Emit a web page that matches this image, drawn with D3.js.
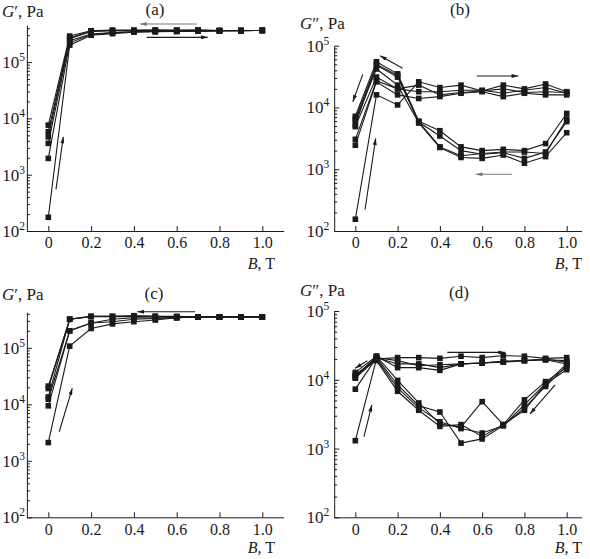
<!DOCTYPE html>
<html><head><meta charset="utf-8">
<script src="https://cdn.jsdelivr.net/npm/d3@7"></script>
<style>
body{margin:0;background:#fff}
svg{display:block}
text{font-family:"Liberation Serif","Times New Roman",Times,serif;fill:#1a1a1a}
</style>
</head><body>
<svg id="chart" width="590" height="559" font-family="Liberation Serif"></svg>
<script>
// ---------- data ----------
const B_UP = [0, 0.1, 0.2, 0.3, 0.4, 0.5, 0.6, 0.7, 0.8, 0.9, 1.0];
const B_DOWN = [1.0, 0.9, 0.8, 0.7, 0.6, 0.5, 0.4, 0.3, 0.2, 0.1, 0];
const xTickValues = [0, 0.2, 0.4, 0.6, 0.8, 1.0];
const xTickLabels = ["0", "0.2", "0.4", "0.6", "0.8", "1.0"];
const yTickExponents = [2, 3, 4, 5];

// (a) G' , sweeps of increasing / decreasing field
const aUp = [
  [175, 2.0e5, 3.0e5, 3.2e5, 3.4e5, 3.45e5, 3.5e5, 3.55e5, 3.6e5, 3.6e5, 3.65e5],
  [1950, 2.2e5, 3.1e5, 3.3e5, 3.45e5, 3.5e5, 3.5e5, 3.55e5, 3.6e5, 3.6e5, 3.65e5],
  [3600, 2.4e5, 3.15e5, 3.35e5, 3.45e5, 3.5e5, 3.55e5, 3.55e5, 3.6e5, 3.6e5, 3.65e5]
];
const aDown = [
  [3.65e5, 3.65e5, 3.65e5, 3.7e5, 3.7e5, 3.7e5, 3.7e5, 3.7e5, 3.6e5, 2.9e5, 7600],
  [3.65e5, 3.65e5, 3.65e5, 3.7e5, 3.65e5, 3.7e5, 3.65e5, 3.65e5, 3.55e5, 2.7e5, 5800],
  [3.65e5, 3.65e5, 3.6e5, 3.65e5, 3.65e5, 3.65e5, 3.6e5, 3.6e5, 3.5e5, 2.6e5, 4700]
];
// (b) G''
const bUp = [
  [155, 1.6e4, 1.1e4, 2.6e4, 2.1e4, 2.3e4, 1.85e4, 2.3e4, 2.0e4, 2.4e4, 1.8e4],
  [2450, 2.6e4, 1.6e4, 1.4e4, 1.5e4, 1.7e4, 1.8e4, 1.5e4, 1.7e4, 1.6e4, 1.6e4],
  [3050, 2.7e4, 2.0e4, 1.8e4, 1.8e4, 1.9e4, 1.9e4, 1.7e4, 1.9e4, 2.1e4, 1.7e4],
  [4900, 3.1e4, 2.0e4, 2.3e4, 1.6e4, 1.75e4, 1.85e4, 2.0e4, 1.75e4, 1.8e4, 1.75e4]
];
const bDown = [
  [8000, 2600, 2000, 2100, 2000, 2300, 4200, 6000, 3.5e4, 5.5e4, 7200],
  [5900, 1900, 1500, 1850, 1750, 2000, 3450, 5800, 3.1e4, 4.8e4, 6600],
  [3900, 1600, 1250, 1700, 1500, 1550, 2250, 5600, 2.3e4, 4.2e4, 6100],
  [6500, 1800, 1900, 1900, 1800, 1650, 2300, 5900, 3.3e4, 5.0e4, 5200]
];
// (c) G'
const cUp = [
  [2100, 1.07e5, 2.2e5, 2.65e5, 2.9e5, 3.1e5, 3.4e5, 3.5e5, 3.5e5, 3.5e5, 3.5e5],
  [9400, 2.0e5, 2.75e5, 2.9e5, 3.2e5, 3.3e5, 3.4e5, 3.5e5, 3.5e5, 3.5e5, 3.5e5],
  [1.23e4, 2.0e5, 2.75e5, 3.2e5, 3.4e5, 3.35e5, 3.45e5, 3.5e5, 3.5e5, 3.5e5, 3.5e5]
];
const cDown = [
  [3.5e5, 3.5e5, 3.5e5, 3.5e5, 3.6e5, 3.6e5, 3.7e5, 3.6e5, 3.6e5, 3.2e5, 2.1e4],
  [3.5e5, 3.5e5, 3.5e5, 3.5e5, 3.55e5, 3.6e5, 3.65e5, 3.6e5, 3.6e5, 3.2e5, 1.9e4],
  [3.5e5, 3.5e5, 3.5e5, 3.5e5, 3.5e5, 3.55e5, 3.6e5, 3.55e5, 3.55e5, 3.2e5, 1.35e4]
];
// (d) G''
const dUp = [
  [1300, 2.0e4, 2.1e4, 2.1e4, 2.05e4, 2.2e4, 2.1e4, 2.25e4, 2.2e4, 2.05e4, 2.1e4],
  [7300, 2.1e4, 1.7e4, 1.7e4, 1.5e4, 1.7e4, 1.75e4, 1.85e4, 1.9e4, 1.95e4, 1.9e4],
  [1.06e4, 2.2e4, 1.5e4, 1.5e4, 1.37e4, 1.7e4, 1.75e4, 1.85e4, 1.9e4, 1.95e4, 1.7e4],
  [1.14e4, 2.1e4, 1.9e4, 1.6e4, 1.65e4, 1.7e4, 1.75e4, 1.8e4, 1.9e4, 2.0e4, 1.8e4]
];
const dDown = [
  [1.5e4, 9400, 5100, 2230, 4800, 2050, 2270, 4600, 9800, 2.2e4, 1.28e4],
  [1.4e4, 8750, 4350, 2150, 1380, 1200, 3400, 4200, 8400, 2.1e4, 1.14e4],
  [1.6e4, 8000, 3900, 2150, 1680, 1950, 2450, 3900, 7600, 2.0e4, 1.06e4],
  [1.7e4, 8700, 3600, 2230, 1500, 2230, 2100, 3600, 6800, 1.9e4, 1.2e4]
];
// arrows (B1, value1, B2, value2, grey?)
const aArrows = [[0.693, 4.75e5, 0.429, 4.75e5, 1], [0.46, 2.75e5, 0.745, 2.75e5, 0], [0.036, 550, 0.070, 4730, 0]];
const bArrows = [[0.574, 3.24e4, 0.771, 3.24e4, 0], [0.74, 828, 0.57, 828, 1], [0.224, 4.3e4, 0.117, 6.9e4, 0], [0.035, 3.44e4, -0.012, 1.24e4, 0], [0.046, 224, 0.0965, 3170, 0]];
const cArrows = [[0.686, 4.35e5, 0.416, 4.35e5, 0], [0.051, 3270, 0.112, 1.92e4, 0]];
const dArrows = [[0.435, 2.5e4, 0.708, 2.5e4, 0], [0.057, 1.89e4, -0.001, 1.47e4, 0], [0.041, 1486, 0.078, 4300, 0], [0.945, 8400, 0.826, 3180, 0]];

// ---------- drawing ----------
const svg = d3.select("#chart");
const defs = svg.append("defs");
[["ahBlack", "#1a1a1a"], ["ahGrey", "#777"]].forEach(([id, col]) => {
  defs.append("marker").attr("id", id).attr("viewBox", "0 0 10 6")
    .attr("refX", 10).attr("refY", 3).attr("markerWidth", 10).attr("markerHeight", 4)
    .attr("markerUnits", "userSpaceOnUse").attr("orient", "auto")
    .append("path").attr("d", "M0,0 L10,3 L0,6 Z").attr("fill", col);
});

function panel(cfg) {
  const g = svg.append("g");
  const x = d3.scaleLinear().domain([-0.1, cfg.xEnd]).range([cfg.xLeft, cfg.xRight]);
  const y = d3.scaleLog().domain([100, cfg.yMax]).range([cfg.yBottom, cfg.yTop]);

  // x axis
  const xa = g.append("g").attr("transform", `translate(0,${cfg.yBottom})`)
    .call(d3.axisBottom(x).tickValues(xTickValues).tickSizeInner(-5).tickSizeOuter(0)
      .tickFormat((d, i) => xTickLabels[i]));
  xa.attr("font-family", null);
  xa.selectAll("text").attr("y", 6).attr("dy", "0.71em").style("font-size", "16px")
    .attr("fill", "#1a1a1a");
  xa.selectAll("path,line").attr("stroke", "#1a1a1a");

  // y axis major
  const majors = yTickExponents.map(e => Math.pow(10, e));
  const ya = g.append("g").attr("transform", `translate(${cfg.xLeft},0)`)
    .call(d3.axisLeft(y).tickValues(majors).tickSizeInner(-5).tickSizeOuter(0).tickFormat(""));
  ya.selectAll("path,line").attr("stroke", "#1a1a1a");
  // minor ticks
  const minors = [];
  for (let e = 2; e <= 5; e++) for (let m = 2; m <= 9; m++) {
    const v = m * Math.pow(10, e);
    if (v < cfg.yMax) minors.push(v);
  }
  const ym = g.append("g").attr("transform", `translate(${cfg.xLeft},0)`)
    .call(d3.axisLeft(y).tickValues(minors).tickSizeInner(-3).tickSizeOuter(0).tickFormat(""));
  ym.select(".domain").remove();
  ym.selectAll("line").attr("stroke", "#1a1a1a");

  // y tick labels 10^n
  yTickExponents.forEach(e => {
    const t = g.append("text").attr("x", cfg.xLeft - cfg.labGap).attr("y", y(Math.pow(10, e)) + 6)
      .attr("text-anchor", "end").style("font-size", "17px");
    t.append("tspan").text("10");
    t.append("tspan").attr("dy", -7).style("font-size", "11.5px").text(String(e));
  });

  // data lines
  const line = d3.line().x(d => x(d[0])).y(d => y(d[1]));
  const sweeps = [];
  cfg.up.forEach(s => sweeps.push(B_UP.map((b, i) => [b, s[i]])));
  cfg.down.forEach(s => sweeps.push(B_DOWN.map((b, i) => [b, s[i]])));
  g.append("g").selectAll("path").data(sweeps).join("path")
    .attr("d", line).attr("fill", "none").attr("stroke", "#1a1a1a").attr("stroke-width", 1.1);
  const pts = sweeps.flat();
  const ms = 5.6;
  g.append("g").selectAll("rect").data(pts).join("rect")
    .attr("x", d => x(d[0]) - ms / 2).attr("y", d => y(d[1]) - ms / 2)
    .attr("width", ms).attr("height", ms).attr("fill", "#1a1a1a");

  // arrows
  g.append("g").selectAll("line").data(cfg.arrows).join("line")
    .attr("x1", d => x(d[0])).attr("y1", d => y(d[1]))
    .attr("x2", d => x(d[2])).attr("y2", d => y(d[3]))
    .attr("stroke", d => d[4] ? "#777" : "#1a1a1a").attr("stroke-width", 1.1)
    .attr("marker-end", d => d[4] ? "url(#ahGrey)" : "url(#ahBlack)");

  // texts
  const yl = g.append("text").attr("x", cfg.yLabX).attr("y", cfg.yLabY).style("font-size", "17px");
  yl.append("tspan").style("font-style", "italic").text("G");
  yl.append("tspan").text(cfg.prime + ", Pa");
  g.append("text").attr("x", cfg.titleX).attr("y", cfg.titleY).attr("text-anchor", "middle")
    .style("font-size", "17px").text(cfg.title);
  const xl = g.append("text").attr("x", cfg.xLabX).attr("y", cfg.yBottom + cfg.xLabDy)
    .attr("text-anchor", "end").style("font-size", "16px");
  xl.append("tspan").style("font-style", "italic").text("B");
  xl.append("tspan").text(", T");
}

panel({xLeft: 26.9, xRight: 283.7, xEnd: 1.1, yBottom: 231, yTop: 25, yMax: Math.pow(10, 2 + 206 / 56.3),
  labGap: 2, up: aUp, down: aDown, arrows: aArrows, yLabX: 2, yLabY: 17, prime: "\u2032",
  title: "(a)", titleX: 155, titleY: 15, xLabX: 275, xLabDy: 38});
panel({xLeft: 334.2, xRight: 581.5, xEnd: 1.07, yBottom: 231, yTop: 45.7, yMax: 1e5,
  labGap: 5, up: bUp, down: bDown, arrows: bArrows, yLabX: 300, yLabY: 29, prime: "\u2033",
  title: "(b)", titleX: 460, titleY: 15, xLabX: 582, xLabDy: 38});
panel({xLeft: 26.9, xRight: 283.7, xEnd: 1.1, yBottom: 517.3, yTop: 312.3, yMax: Math.pow(10, 2 + 205 / 56.5),
  labGap: 2, up: cUp, down: cDown, arrows: cArrows, yLabX: 2, yLabY: 300, prime: "\u2032",
  title: "(c)", titleX: 154, titleY: 299, xLabX: 275, xLabDy: 36});
panel({xLeft: 334.2, xRight: 581.5, xEnd: 1.07, yBottom: 517.3, yTop: 311, yMax: 1e5,
  labGap: 5, up: dUp, down: dDown, arrows: dArrows, yLabX: 300, yLabY: 296, prime: "\u2033",
  title: "(d)", titleX: 459, titleY: 298, xLabX: 582, xLabDy: 36});
</script>
</body></html>
